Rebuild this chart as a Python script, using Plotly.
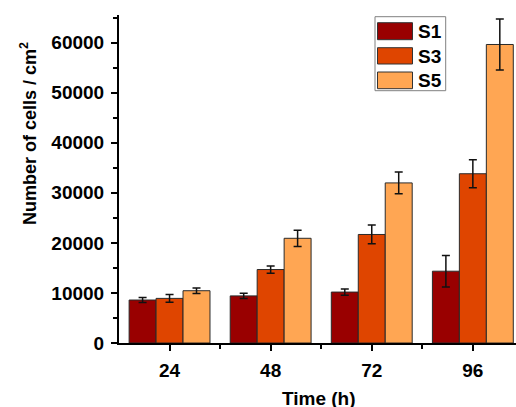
import plotly.graph_objects as go

times = [24, 48, 72, 96]
series_names = ["S1", "S3", "S5"]
s1_values = [8580, 9410, 10170, 14340]
s1_errors = [500, 530, 630, 3140]
s3_values = [8910, 14670, 21670, 33800]
s3_errors = [770, 730, 1870, 2800]
s5_values = [10440, 20910, 31970, 59610]
s5_errors = [560, 1630, 2170, 5070]
colors = ["#990000", "#DF4500", "#FFA653"]

W, H = 516, 407
L, R, T, B = 119, 0, 15, 64
pw, ph = W - L - R, H - T - B

def px(x):
    return (x - L) / pw

def py(y):
    return (H - B - y) / ph

FONT = "Liberation Sans, Arial, sans-serif"
BF = lambda s: dict(family=FONT, size=s, color="black", weight="bold")

fig = go.Figure()
for name, vals, errs, col in zip(series_names, [s1_values, s3_values, s5_values],
                                 [s1_errors, s3_errors, s5_errors], colors):
    fig.add_trace(go.Bar(
        x=times, y=vals, name=name, showlegend=False,
        marker=dict(color=col, line=dict(color="#2a2a2a", width=1)),
        error_y=dict(type="data", array=errs, visible=True, color="#111111",
                     thickness=1.5, width=4),
    ))

# custom legend
shapes = [dict(type="rect", xref="paper", yref="paper",
               x0=px(375), x1=px(445.7), y0=py(90.7), y1=py(16.7),
               line=dict(color="#808080", width=1), fillcolor="white", layer="above")]
annotations = []
sw = [(22.7, 39.7), (47.7, 64.0), (72.0, 88.7)]
for (a, b), name, col in zip(sw, series_names, colors):
    shapes.append(dict(type="rect", xref="paper", yref="paper",
                       x0=px(377.5), x1=px(412.5), y0=py(b), y1=py(a),
                       line=dict(color="#333333", width=1), fillcolor=col, layer="above"))
    annotations.append(dict(xref="paper", yref="paper", x=px(416), y=py((a + b) / 2 + 0.5),
                            text=name, showarrow=False, xanchor="left", yanchor="middle",
                            font=BF(19)))

annotations.append(dict(xref="paper", yref="paper", x=px(319), y=py(398),
                        text="Time (h)", showarrow=False, xanchor="center", yanchor="middle",
                        font=BF(19)))
annotations.append(dict(xref="paper", yref="paper", x=px(28), y=py(134),
                        text="Number of cells / cm<sup>2</sup>", textangle=-90,
                        showarrow=False, xanchor="center", yanchor="middle",
                        font=BF(18)))

fig.update_layout(
    width=W, height=H,
    margin=dict(l=L, r=R, t=T, b=B),
    paper_bgcolor="white", plot_bgcolor="white",
    barmode="group", bargap=0.2, bargroupgap=0,
    font=BF(19),
    shapes=shapes, annotations=annotations,
)
fig.update_xaxes(
    type="linear", range=[12, 12 + pw * 24 / 101.1],
    tickmode="array", tickvals=times, ticktext=[str(t) for t in times],
    ticks="outside", ticklen=6, tickwidth=2, tickcolor="black",
    showline=True, linewidth=2, linecolor="black", showgrid=False, zeroline=False,
    tickfont=BF(19), ticklabelstandoff=3,
    minor=dict(tickmode="array", tickvals=[36, 60, 84], ticks="outside", ticklen=4,
               tickwidth=2, tickcolor="black", showgrid=False),
)
fig.update_yaxes(
    range=[0, 65500], tick0=0, dtick=10000, tickformat="d",
    ticks="outside", ticklen=6, tickwidth=2, tickcolor="black",
    showline=True, linewidth=2, linecolor="black", showgrid=False, zeroline=False,
    tickfont=BF(19),
    ticklabelstandoff=3,
    minor=dict(dtick=5000, ticks="outside", ticklen=4, tickwidth=2, tickcolor="black",
               showgrid=False),
)
fig.write_html("out.html", config={"displayModeBar": False},
               post_script="document.body.style.margin='0';")
